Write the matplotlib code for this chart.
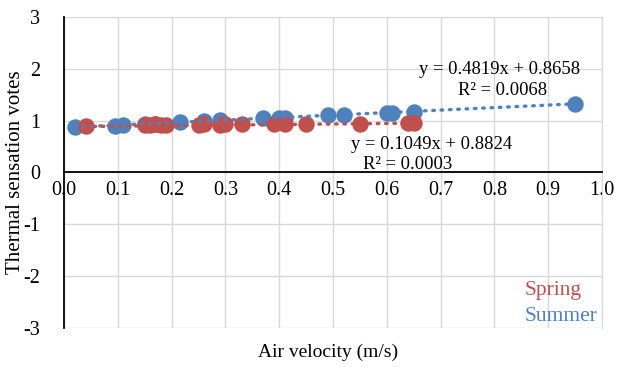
import matplotlib.pyplot as plt
import numpy as np

plt.rcParams['font.family'] = ['Liberation Serif', 'DejaVu Serif']
plt.rcParams['axes.unicode_minus'] = False

# ----- data -----
spring_v = [0.04, 0.15, 0.16, 0.17, 0.18, 0.19, 0.25, 0.26, 0.29, 0.30,
            0.33, 0.39, 0.41, 0.45, 0.55, 0.64, 0.65]
spring_tsv = [0.89, 0.92, 0.92, 0.93, 0.92, 0.92, 0.92, 0.93, 0.92, 0.93,
              0.93, 0.93, 0.93, 0.93, 0.94, 0.95, 0.95]

summer_v = [0.02, 0.095, 0.11, 0.15, 0.17, 0.215, 0.26, 0.29, 0.37, 0.40,
            0.41, 0.49, 0.52, 0.60, 0.61, 0.65, 0.95]
summer_tsv = [0.88, 0.90, 0.91, 0.93, 0.94, 0.98, 1.00, 1.01, 1.05, 1.06,
              1.06, 1.10, 1.10, 1.15, 1.15, 1.17, 1.32]

# trend lines as printed on the chart
spring_fit = (0.1049, 0.8824, 0.0003)
summer_fit = (0.4819, 0.8658, 0.0068)

red = '#C0504D'
blue = '#4F81BD'

fig = plt.figure(figsize=(6.18, 3.67), dpi=100)
ax = fig.add_axes([0.1036, 0.106, 0.8705, 0.848])

ax.scatter(summer_v, summer_tsv, s=140, color=blue, zorder=3, linewidths=0)
ax.scatter(spring_v, spring_tsv, s=140, color=red, zorder=3, linewidths=0)

# dotted linear trend lines
xs = np.array([min(summer_v), max(summer_v)])
ax.plot(xs, summer_fit[0] * xs + summer_fit[1], color=blue, lw=2.4,
        ls=(0, (0.5, 2.0)), dash_capstyle='round', zorder=4)
xs = np.array([min(spring_v), max(spring_v)])
ax.plot(xs, spring_fit[0] * xs + spring_fit[1], color=red, lw=2.4,
        ls=(0, (0.5, 2.0)), dash_capstyle='round', zorder=4)

ax.set_xlim(0, 1.0)
ax.set_ylim(-3, 3)
ax.set_xticks(np.arange(0, 1.01, 0.1))
ax.set_xticklabels([f'{t:.1f}' for t in np.arange(0, 1.01, 0.1)])
ax.set_yticks(range(-3, 4))
ax.grid(True, color='#D9D9D9', lw=1.0, zorder=0)
ax.set_axisbelow(True)

ax.spines['bottom'].set_position(('data', 0))
ax.spines['bottom'].set_color('black')
ax.spines['bottom'].set_linewidth(1.3)
ax.spines['left'].set_color('black')
ax.spines['left'].set_linewidth(1.3)
ax.spines['top'].set_visible(False)
ax.spines['right'].set_color('#D9D9D9')
ax.tick_params(length=0, labelsize=14.5, colors='black')
ax.tick_params(axis='x', pad=6)
ax.tick_params(axis='y', pad=17)

# equations
ax.text(0.81, 1.99, f'y = {summer_fit[0]}x + {summer_fit[1]}',
        ha='center', va='center', fontsize=13.4)
ax.text(0.815, 1.58, f'R² = {summer_fit[2]:.4f}',
        ha='center', va='center', fontsize=13.4)
ax.text(0.684, 0.54, f'y = {spring_fit[0]}x + {spring_fit[1]}',
        ha='center', va='center', fontsize=13.4)
ax.text(0.638, 0.155, f'R² = {spring_fit[2]:.4f}',
        ha='center', va='center', fontsize=13.4)

# legend as coloured text
ax.text(0.857, -2.28, 'Spring', color=red, fontsize=15.5, ha='left', va='center')
ax.text(0.857, -2.77, 'Summer', color=blue, fontsize=15.5, ha='left', va='center')

fig.text(0.531, 0.04, 'Air velocity (m/s)', ha='center', va='center',
         fontsize=14)
fig.text(0.025, 0.53, 'Thermal sensation votes', ha='center', va='center',
         rotation=90, fontsize=15)

fig.savefig('out.png', dpi=100)
